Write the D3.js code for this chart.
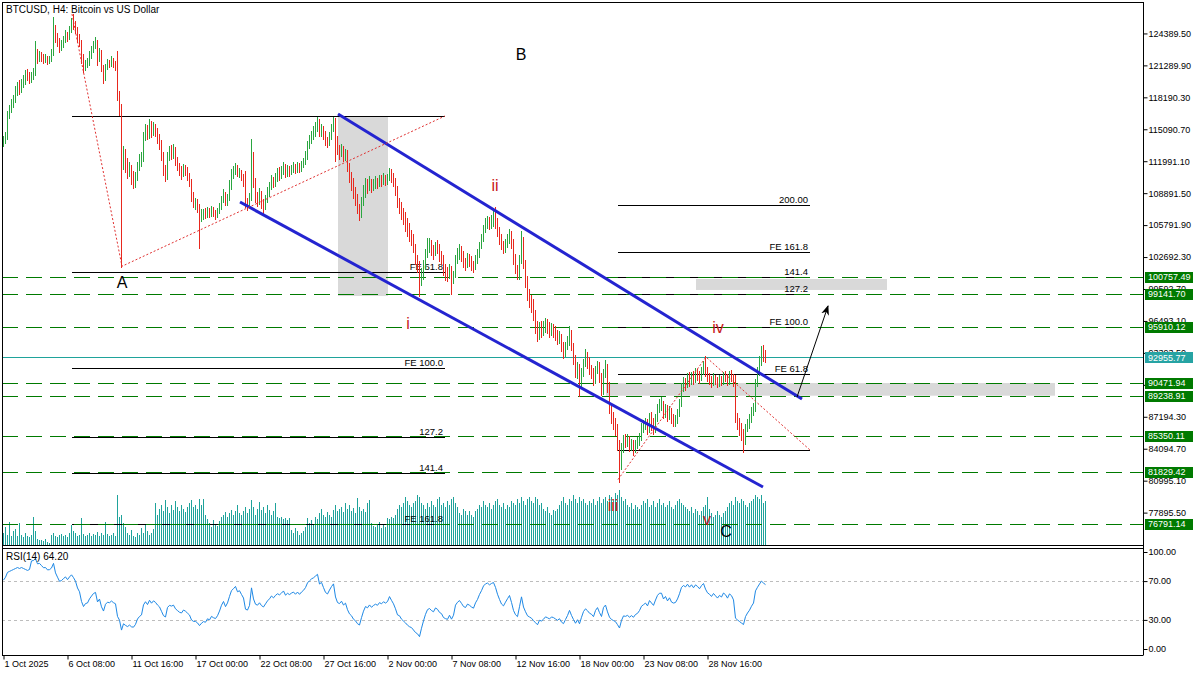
<!DOCTYPE html>
<html><head><meta charset="utf-8">
<script src="https://cdn.jsdelivr.net/npm/d3@7"></script>
<style>body{margin:0;background:#fff}svg{display:block}text{font-family:"Liberation Sans",Arial,sans-serif}</style>
</head><body><svg id="c" width="1200" height="675"></svg>
<script>
// ---- DATA (prices in thousands of USD, H4 bars from 1 Oct 2025) ----
const firstOpen = 113.8;
const closes = [
114.0,114.4,116.5,117.0,117.6,118.0, 118.8,119.2,119.0,119.5,119.8,120.5, 120.3,120.0,120.2,120.6,122.5,122.0,
122.3,122.1,121.9,122.0,121.8,121.9, 122.5,125.0,124.0,123.5,123.0,123.2, 123.8,124.3,124.0,124.8,125.5,125.2,
124.8,124.0,123.5,122.0,121.0,121.5, 121.6,122.3,122.8,123.3,123.5,122.0, 122.5,121.0,120.0,121.2,121.6,121.5,
121.8,121.5,121.3,118.3,117.0,111.5, 112.8,111.8,111.0,111.3,110.2,110.0, 110.5,111.5,112.0,112.3,114.5,115.3,
114.5,115.6,114.8,115.4,115.0,114.3, 113.8,112.5,111.0,110.5,112.5,113.0, 112.8,113.0,112.0,111.5,111.0,110.8,
111.3,111.0,110.5,110.0,108.5,108.0, 108.0,107.5,106.5,106.8,107.0,106.8, 107.2,106.9,107.3,107.0,106.8,107.1,
107.6,108.3,108.8,108.0,108.5,109.5, 110.6,111.0,111.5,110.8,111.0,110.5, 110.0,108.0,107.8,108.5,112.5,110.0,
108.5,108.2,108.8,108.0,107.6,108.3, 109.0,109.5,110.2,109.8,110.4,110.8, 110.6,111.0,111.5,110.8,111.2,111.0,
111.3,111.5,111.2,111.6,111.3,111.7, 112.0,112.5,113.5,114.0,114.5,114.8, 115.3,115.8,114.8,115.2,114.6,114.0,
113.8,114.5,115.2,115.8,114.0,113.0, 112.8,113.2,112.5,112.8,111.5,110.5, 110.0,109.0,108.5,107.5,107.0,108.0,
109.0,109.8,109.5,110.0,109.5,109.8, 110.0,109.8,110.2,110.0,110.3,110.1, 110.3,111.0,110.5,110.0,109.2,108.0,
107.8,107.0,106.5,106.0,105.3,104.8, 104.5,103.6,102.5,101.8,100.0,101.0, 102.0,103.0,103.8,104.0,103.5,103.2,
103.8,103.5,102.8,102.5,101.5,101.2, 101.0,101.5,100.5,101.0,102.5,103.0, 103.3,102.8,102.2,102.0,102.5,102.3,
102.0,101.8,102.5,103.0,103.8,104.5, 105.5,106.0,106.2,106.0,106.3,106.5, 106.0,105.2,104.5,103.8,103.5,104.0,
104.5,105.0,104.0,102.5,101.5,101.0, 102.5,104.5,102.0,100.5,99.0,98.5, 98.0,97.0,96.0,95.0,95.8,95.5,
95.8,96.2,95.9,95.5,95.8,95.6, 95.2,94.8,95.0,94.0,93.5,94.0, 94.5,95.2,94.0,92.8,91.5,92.0,
90.5,91.5,92.5,93.0,92.5,91.8, 91.5,90.8,91.8,92.3,91.0,89.8, 91.5,92.0,90.0,88.0,87.0,86.5,
86.0,84.5,82.5,84.0,85.0,84.8, 85.0,84.3,84.6,84.0,84.5,84.7, 85.2,86.0,86.3,86.6,86.0,87.0,
86.5,86.0,87.0,88.0,88.5,88.5, 87.5,88.0,87.2,87.8,87.0,86.8, 86.9,87.5,88.5,90.0,90.5,90.3,
91.0,90.6,91.2,90.8,91.5,91.3, 91.0,91.7,92.2,91.5,91.0,90.8, 90.5,91.0,90.7,90.4,90.8,90.6,
91.2,91.0,90.6,91.2,91.0,90.5, 87.0,86.5,86.0,85.5,85.0,86.0, 86.5,86.9,87.5,88.0,90.5,91.5,
92.5,93.5,93.2,92.96];
const highs = [
114.4,114.8,116.8,117.4,118.0,118.4, 119.2,119.6,119.8,119.9,120.3,120.8, 120.9,120.6,120.6,121.0,123.6,122.8,
122.6,122.5,122.3,122.3,122.2,122.2, 122.8,125.9,125.2,124.4,123.9,123.7, 124.1,124.7,124.5,125.1,125.8,126.2,
125.5,125.0,124.3,123.7,122.3,121.8, 122.0,122.6,123.1,123.6,124.0,123.7, 122.9,122.7,121.3,121.4,121.9,121.8,
122.2,122.0,121.7,122.6,118.8,117.5, 113.4,113.1,112.3,111.9,111.6,111.0, 110.9,111.9,112.6,112.8,114.8,115.6,
115.5,116.0,115.8,115.7,115.6,115.2, 114.6,114.0,112.8,111.6,112.8,113.4, 113.5,113.6,113.3,112.4,111.8,111.5,
111.7,111.6,111.4,110.8,110.2,109.0, 108.4,108.3,107.8,107.3,107.3,107.4, 107.5,107.4,107.6,107.5,107.2,107.4,
107.9,108.6,109.2,109.0,108.8,110.1, 111.2,111.5,111.8,111.6,111.3,111.1, 110.7,111.0,108.4,108.9,114.1,112.8,
110.3,109.0,109.3,109.1,108.3,108.7, 109.4,109.9,110.6,110.4,110.8,111.3, 111.4,111.5,111.9,111.7,111.6,111.5,
111.6,111.9,111.7,111.9,111.8,112.0, 112.3,112.9,113.9,114.5,114.9,115.4, 115.7,116.2,116.0,115.6,115.4,114.9,
114.3,114.8,115.6,116.2,116.1,114.4, 113.5,113.6,113.4,113.1,113.0,111.8, 110.9,110.3,109.4,108.8,107.8,108.5,
109.6,110.3,110.2,110.5,110.2,110.2, 110.5,110.3,110.6,110.6,110.8,110.6, 110.7,111.3,111.2,110.8,110.3,109.5,
108.4,108.0,107.4,107.0,106.4,105.9, 105.3,104.9,103.9,102.8,102.3,101.6, 102.4,103.4,104.5,104.5,104.3,103.8,
104.1,104.3,103.9,103.2,102.8,102.0, 101.7,102.0,101.8,101.3,102.8,103.5, 103.9,103.7,103.2,102.6,103.0,102.9,
102.7,102.3,102.8,103.4,104.1,104.9, 105.8,106.4,106.6,106.5,106.7,107.1, 107.5,106.4,105.6,104.9,104.2,104.4,
104.9,105.4,105.2,104.4,102.9,101.9, 102.8,105.2,104.6,102.4,100.8,99.5, 99.0,98.6,97.5,96.4,96.3,96.4,
96.4,96.7,96.6,96.3,96.2,96.1, 96.0,95.6,95.5,95.2,94.4,94.4, 95.0,96.0,95.6,94.3,93.1,92.5,
92.3,91.9,92.8,93.7,93.4,92.9, 92.2,91.9,92.1,92.6,92.5,91.4, 91.8,92.7,92.3,90.5,88.4,87.6,
87.0,86.4,84.9,84.6,85.4,85.5, 85.5,85.3,85.0,84.9,84.9,85.2, 85.6,86.5,86.8,87.0,86.9,87.5,
87.6,87.0,87.4,88.4,88.9,89.1, 88.7,88.4,88.3,88.2,88.0,87.4, 87.3,87.9,88.9,90.4,91.0,90.9,
91.4,91.5,91.5,91.6,91.9,91.8, 91.6,92.0,92.6,93.0,92.0,91.4, 91.1,91.4,91.2,91.0,91.2,91.1,
91.5,91.6,91.3,91.6,91.7,91.3, 91.2,87.5,87.0,86.5,86.0,86.4, 86.9,87.4,88.1,88.5,90.8,92.0,
93.0,94.0,94.1,93.6];
const lows = [
113.5,113.8,114.2,116.2,116.8,117.3, 117.8,118.5,118.6,118.8,119.2,119.5, 119.9,119.6,119.7,120.0,120.4,121.6,
121.8,121.8,121.6,121.7,121.5,121.6, 121.8,122.3,123.6,123.2,122.6,122.8, 123.1,123.6,123.7,123.9,124.6,124.9,
124.5,123.6,123.2,121.6,120.7,120.9, 121.2,121.4,122.1,122.6,123.0,121.4, 121.8,120.8,119.6,119.9,121.0,121.2,
121.3,121.2,120.9,118.0,116.5,101.8, 111.3,111.0,110.4,110.6,109.8,109.4, 109.5,110.2,111.2,111.6,112.1,114.1,
114.2,114.3,114.4,114.6,114.5,113.8, 113.2,112.2,110.7,110.1,110.3,112.2, 112.3,112.4,111.7,111.2,110.7,110.3,
110.6,110.7,110.2,109.6,108.2,107.6, 107.4,107.1,103.6,106.2,106.4,106.5, 106.6,106.6,106.7,106.7,106.4,106.6,
107.0,107.4,108.1,107.8,107.8,108.3, 109.3,110.4,110.8,110.6,110.5,110.2, 109.6,107.6,107.3,107.6,108.3,109.5,
108.1,107.7,107.9,107.5,107.0,107.4, 108.1,108.7,109.3,109.5,109.6,110.1, 110.2,110.4,110.8,110.5,110.6,110.6,
110.8,111.0,110.9,111.0,111.0,111.1, 111.5,111.8,112.3,113.3,113.8,114.2, 114.5,115.0,114.5,114.5,114.2,113.6,
113.4,113.6,114.2,115.0,112.1,112.7, 112.3,112.5,112.1,112.2,111.1,110.0, 109.2,108.5,107.8,107.0,106.3,106.6,
107.8,108.6,109.0,109.2,109.1,109.2, 109.4,109.4,109.6,109.6,109.8,109.7, 109.8,110.2,110.0,109.6,108.8,107.6,
107.0,106.4,105.9,105.3,104.8,104.3, 103.9,103.2,102.1,101.3,99.0,100.0, 100.6,101.6,102.7,103.2,102.9,102.6,
102.9,103.1,102.4,102.1,101.0,100.5, 100.4,100.7,99.2,100.2,100.8,102.2, 102.6,102.4,101.8,101.5,101.8,101.9,
101.5,101.3,101.6,102.2,102.7,103.6, 104.3,105.2,105.6,105.5,105.6,105.8, 105.6,104.8,104.0,103.5,103.1,103.2,
103.7,104.1,103.6,102.1,101.2,100.6, 100.6,102.2,101.7,99.8,98.6,97.9, 97.4,96.6,95.4,94.6,94.8,95.0,
95.2,95.5,95.4,95.0,95.2,95.0, 94.7,94.3,94.4,93.6,92.9,93.1, 93.8,94.2,93.7,92.4,91.1,91.0,
89.3,90.2,91.2,92.2,92.0,91.4, 91.0,90.3,90.5,91.5,90.6,89.4, 89.5,91.1,89.6,87.6,86.6,86.1,
85.5,84.0,80.9,82.2,83.8,84.3, 84.4,83.9,84.0,83.5,83.8,84.2, 84.5,85.0,85.8,86.1,85.6,85.8,
86.0,85.6,85.8,86.8,87.7,87.9, 87.1,87.2,86.8,87.0,86.6,86.3, 86.3,86.6,87.3,88.3,89.7,89.8,
90.1,90.2,90.4,90.4,90.6,90.8, 90.5,90.8,91.4,91.2,90.7,90.4, 90.1,90.3,90.4,90.1,90.2,90.3,
90.4,90.7,90.3,90.4,90.7,90.2, 86.7,86.1,85.5,85.0,83.8,84.6, 85.9,86.2,86.7,87.4,87.8,90.2,
91.3,92.3,92.7,92.6];
const volumes = [
12,18,10,23,9,14, 16,9,22,10,8,12, 9,8,10,28,14,6, 5,5,4,6,3,2, 10,12,9,8,10,11, 9,10,8,12,20,14,
12,9,10,27,11,9, 10,12,9,11,10,13, 9,12,10,23,11,9, 10,12,9,50,28,30, 22,18,12,10,15,9, 8,12,10,17,12,20,
14,10,12,16,42,30, 36,40,34,45,38,32, 40,35,44,38,34,40, 36,33,38,42,45,38, 40,36,46,40,46,30, 26,22,18,25,20,19,
24,28,30,33,28,32, 35,30,34,40,32,30, 34,38,32,36,45,38, 30,36,43,35,38,32, 40,35,30,34,42,28, 27,28,26,27,25,27,
15,12,17,14,10,12, 14,18,27,22,25,20, 28,26,32,36,30,28, 33,30,28,35,40,34, 36,38,33,42,36,40, 34,37,32,47,38,34,
36,33,42,45,22,19, 18,20,23,17,20,18, 27,26,28,27,30,36, 40,38,42,48,44,40, 38,42,44,50,48,42, 40,36,42,38,44,40,
38,46,48,40,42,38, 44,40,46,48,42,38, 32,30,36,34,30,34, 30,28,34,36,40,38, 44,40,38,42,36,40, 44,46,40,38,42,36,
40,38,44,42,40,46, 42,48,44,40,46,48, 44,42,48,46,40,42, 36,34,38,32,30,35, 34,36,40,44,48,42, 40,46,44,50,46,42,
48,44,46,42,40,44, 42,46,40,44,48,42, 46,48,44,50,48,46, 52,50,55,48,44,46, 40,38,42,36,40,38, 36,40,44,42,46,38,
40,44,38,42,46,40, 42,38,40,44,38,36, 40,44,46,42,40,38, 36,34,38,32,36,34, 30,34,38,40,48,36, 32,28,30,34,30,28,
32,34,38,42,44,40, 48,44,42,46,44,40, 38,42,44,46,50,48, 46,50,42,44];
const rsiHead = [71,74,79,80,81,82,83,84,83,84,83,82,81,82];
const rsiLabel = "RSI(14) 64.20";
const priceTicks = [124389.50,121289.90,118190.30,115090.70,111991.10,108891.50,105791.90,102692.30,99592.70,96493.10,93393.50,90293.90,87194.30,84094.70,80995.10,77895.50];
const rsiTicks = [100,70,30,0];
const timeTickIdx = [0,32,64,96,128,160,192,224,256,288,320,352];
const timeTickLabels = ["1 Oct 2025","6 Oct 08:00","11 Oct 16:00","17 Oct 00:00","22 Oct 08:00","27 Oct 16:00","2 Nov 00:00","7 Nov 08:00","12 Nov 16:00","18 Nov 00:00","23 Nov 08:00","28 Nov 16:00"];
const levelPrices = [100757.49,99141.70,95910.12,90471.94,89238.91,85350.11,81829.42,76791.14];
const lastPrice = 92955.77;
const feLeftPts = [[34.5,126.27],[59.5,101.8],[221,116.38]];
const feLeftRatios = [0,61.8,100,127.2,141.4,161.8];
const feLeftLabels = ["","FE 61.8","FE 100.0","127.2","141.4","FE 161.8"];
const feRightPts = [[307.5,81.1],[351.5,92.99],[403.5,83.97]];
const feRightRatios = [0,61.8,100,127.2,141.4,161.8,200];
const feRightLabels = ["","FE 61.8","FE 100.0","127.2","141.4","FE 161.8","200.00"];
const channelUpper = [[167.5,116.57],[399.5,88.92]];
const channelLower = [[118.5,108.03],[380,80.38]];
const arrowPts = [[397,89.11],[412.5,97.94]];
const zones = [[167.5,192.5,116.38,98.91],[346.5,442,100.56,99.5],[301.5,526,90.47194,89.23891]];
const waveText = ["B","A","C"], waveIdx = [259,59.5,361.5], wavePrice = [122.39,100.27,76.1];
const subText = ["i","ii","iii","iv","v"], subIdx = [202.5,246,305,357.5,352], subPrice = [96.2,109.68,78.63,95.9,77.18];

// ---- CHART ----
const svg = d3.select("#c");
const L=2, R=1143, T=2, MB=545, RT=548, RB=655;
const x = d3.scaleLinear().domain([0,570]).range([3,1143]);
const y = d3.scaleLinear().domain([74753,127440]).range([MB,T]);
const yk = v => y(v*1000);
const yr = d3.scaleLinear().domain([0,100]).range([649,552]);
const yv = d3.scaleLinear().domain([0,60]).range([MB,MB-60]);
const cr = v => Math.round(v)+0.5;
const UP="#2aa640", DN="#e8281e", GREEN="#007a00", TEAL="#1fa39b";

svg.append("clipPath").attr("id","mc").append("rect").attr("x",L).attr("y",T).attr("width",R-L).attr("height",MB-T);
svg.append("clipPath").attr("id","rc").append("rect").attr("x",L).attr("y",RT).attr("width",R-L).attr("height",RB-RT);
const g = svg.append("g").attr("clip-path","url(#mc)");

g.selectAll(".zone").data(zones).join("rect").attr("fill","#d9d9d9")
 .attr("x",d=>x(d[0])).attr("width",d=>x(d[1])-x(d[0]))
 .attr("y",d=>yk(d[2])).attr("height",d=>yk(d[3])-yk(d[2]));

// volumes
g.append("g").attr("shape-rendering","crispEdges").selectAll("rect").data(volumes).join("rect").attr("fill",TEAL)
 .attr("x",(d,i)=>Math.round(x(i))).attr("width",1).attr("y",d=>Math.round(yv(d))).attr("height",d=>MB-Math.round(yv(d)));

function feLevels(pts, ratios, labels){
  const [p1,p2,p3]=pts; const rng = p2[1]-p1[1];
  ratios.forEach((r,k)=>{
    const pv = p3[1] + r/100*rng;
    const yy = cr(yk(pv));
    g.append("line").attr("x1",x(p1[0])).attr("x2",x(p3[0])).attr("y1",yy).attr("y2",yy).attr("stroke","#000").attr("stroke-width",1);
    if(labels[k]) g.append("text").attr("x",x(p3[0])-2).attr("y",yy-3).attr("text-anchor","end").attr("font-size",9.5).attr("fill","#000").text(labels[k]);
  });
}
feLevels(feLeftPts, feLeftRatios, feLeftLabels);
feLevels(feRightPts, feRightRatios, feRightLabels);

g.selectAll(".lvl").data(levelPrices).join("line").attr("x1",L).attr("x2",R)
 .attr("y1",d=>cr(y(d))).attr("y2",d=>cr(y(d))).attr("stroke",GREEN).attr("stroke-width",1).attr("stroke-dasharray","16,8");
g.append("line").attr("x1",L).attr("x2",R).attr("y1",cr(y(lastPrice))).attr("y2",cr(y(lastPrice))).attr("stroke",TEAL).attr("stroke-width",1);

// OHLC bars as crisp 1px rects
const bars = closes.map((c,i)=>{const o = i? closes[i-1] : firstOpen; return {i,o,c,h:Math.max(highs[i],o,c),l:Math.min(lows[i],o,c)};});
g.append("g").attr("shape-rendering","crispEdges").selectAll("rect").data(bars).join("rect")
 .attr("x",d=>Math.round(x(d.i))).attr("width",1)
 .attr("y",d=>Math.floor(yk(d.h))).attr("height",d=>Math.max(1,Math.ceil(yk(d.l))-Math.floor(yk(d.h))+1))
 .attr("fill",d=>d.c>=d.o?UP:DN);

[channelUpper, channelLower].forEach(p=>{
  g.append("line").attr("x1",x(p[0][0])).attr("y1",yk(p[0][1])).attr("x2",x(p[1][0])).attr("y2",yk(p[1][1]))
   .attr("stroke","#2424d0").attr("stroke-width",3);
});
[feLeftPts, feRightPts].forEach(pts=>{
  g.append("path").attr("d",d3.line().x(d=>x(d[0])).y(d=>yk(d[1]))(pts)).attr("fill","none")
   .attr("stroke","#e03030").attr("stroke-width",1).attr("stroke-dasharray","2,2");
});
svg.append("defs").append("marker").attr("id","ah").attr("viewBox","0 0 10 10").attr("refX",9).attr("refY",5)
 .attr("markerWidth",10).attr("markerHeight",10).attr("markerUnits","userSpaceOnUse").attr("orient","auto")
 .append("path").attr("d","M0,1 L10,5 L0,9 L3,5 Z").attr("fill","#000");
g.append("line").attr("x1",x(arrowPts[0][0])).attr("y1",yk(arrowPts[0][1])).attr("x2",x(arrowPts[1][0])).attr("y2",yk(arrowPts[1][1]))
 .attr("stroke","#000").attr("stroke-width",1).attr("marker-end","url(#ah)");

waveText.forEach((t,k)=>g.append("text").attr("x",x(waveIdx[k])).attr("y",yk(wavePrice[k])).attr("text-anchor","middle")
 .attr("dominant-baseline","central").attr("font-size",16).attr("fill","#000").text(t));
subText.forEach((t,k)=>g.append("text").attr("x",x(subIdx[k])).attr("y",yk(subPrice[k])).attr("text-anchor","middle")
 .attr("dominant-baseline","central").attr("font-size",16).attr("fill","#c81818").text(t));

svg.append("text").attr("x",6).attr("y",12.5).attr("font-size",10).attr("fill","#000").text("BTCUSD, H4:  Bitcoin vs US Dollar");

// RSI(14), Wilder smoothing of the closes
const rsi=[];
let ag=0, al=0;
for(let i=1;i<=14;i++){const d=closes[i]-closes[i-1]; ag+=Math.max(d,0); al+=Math.max(-d,0);}
ag/=14; al/=14;
for(let i=0;i<closes.length;i++){
  if(i<14){rsi.push(rsiHead[i]);continue;}
  if(i>14){const d=closes[i]-closes[i-1]; ag=(ag*13+Math.max(d,0))/14; al=(al*13+Math.max(-d,0))/14;}
  rsi.push(al===0?100:100-100/(1+ag/al));
}
const rg = svg.append("g").attr("clip-path","url(#rc)");
[70,30].forEach(v=>rg.append("line").attr("x1",L).attr("x2",R).attr("y1",cr(yr(v))).attr("y2",cr(yr(v))).attr("stroke","#bdbdbd").attr("stroke-dasharray","3,3"));
rg.append("path").attr("d",d3.line().x((d,i)=>x(i)+0.5).y(d=>yr(d))(rsi)).attr("fill","none").attr("stroke","#1e88e5").attr("stroke-width",1);
svg.append("text").attr("x",6).attr("y",560).attr("font-size",10).attr("fill","#000").text(rsiLabel);

const fr = svg.append("g").attr("stroke","#000").attr("stroke-width",1).attr("fill","none");
fr.append("line").attr("x1",L+0.5).attr("x2",L+0.5).attr("y1",T).attr("y2",RB+0.5);
fr.append("line").attr("x1",L).attr("x2",R).attr("y1",T+0.5).attr("y2",T+0.5);
fr.append("line").attr("x1",L).attr("x2",R).attr("y1",MB+0.5).attr("y2",MB+0.5);
fr.append("line").attr("x1",L).attr("x2",R).attr("y1",RT+0.5).attr("y2",RT+0.5);

const ya = svg.append("g").attr("transform",`translate(${R+0.5},0)`)
 .call(d3.axisRight(y).tickValues(priceTicks).tickSize(4).tickPadding(1).tickFormat(d3.format(".2f")));
ya.select(".domain").remove();
ya.selectAll("text").attr("font-size",9).attr("font-family","Liberation Sans, Arial").attr("fill","#000");
ya.selectAll("line").attr("stroke","#000");
const ra = svg.append("g").attr("transform",`translate(${R+0.5},0)`)
 .call(d3.axisRight(yr).tickValues(rsiTicks).tickSize(4).tickPadding(1).tickFormat(d3.format(".2f")));
ra.select(".domain").remove();
ra.selectAll("text").attr("font-size",9).attr("font-family","Liberation Sans, Arial").attr("fill","#000");
ra.selectAll("line").attr("stroke","#000");
svg.append("line").attr("x1",R+0.5).attr("x2",R+0.5).attr("y1",T).attr("y2",RB+0.5).attr("stroke","#000");

function tag(p,col){
  const yy=y(p);
  svg.append("rect").attr("x",R+2).attr("y",Math.round(yy)-5).attr("width",48).attr("height",11).attr("fill",col);
  svg.append("text").attr("x",R+5).attr("y",yy).attr("dy","0.35em").attr("font-size",9).attr("fill","#fff").text(d3.format(".2f")(p));
}
levelPrices.forEach(p=>tag(p,GREEN));
tag(lastPrice,"#26a3a3");

const xa = svg.append("g").attr("transform",`translate(0,${RB+0.5})`)
 .call(d3.axisBottom(x).tickValues(timeTickIdx).tickSize(4).tickFormat((d,k)=>timeTickLabels[k]));
xa.select(".domain").attr("d",`M${L},0H${R}`).attr("stroke","#000");
xa.selectAll("line").attr("stroke","#000").attr("transform","translate(0.5,0)");
xa.selectAll("text").attr("text-anchor","start").attr("x",1).attr("y",5).attr("font-size",9).attr("font-family","Liberation Sans, Arial").attr("fill","#000");
</script></body></html>
